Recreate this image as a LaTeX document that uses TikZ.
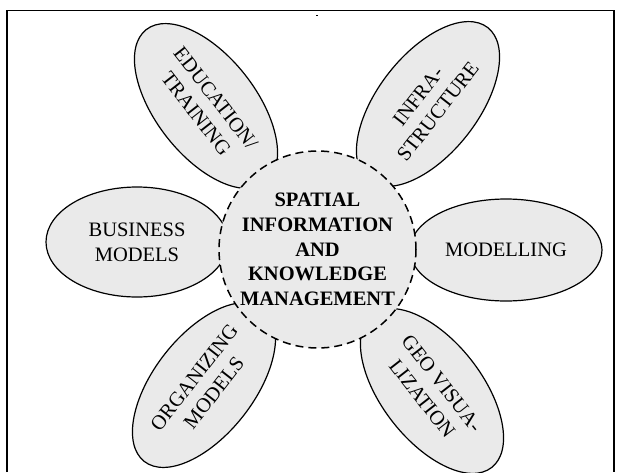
\documentclass[tikz,border=0pt]{standalone}
\usepackage{fontspec}
\setmainfont{Liberation Serif}
\usetikzlibrary{shapes.geometric}
\definecolor{petalfill}{RGB}{234,234,234}
\tikzset{
  petal/.style={ellipse, draw=black, line width=1.2pt, fill=petalfill, inner sep=0pt,
    align=center, font=\fontsize{20.5}{25}\selectfont},
  hub/.style={circle, draw=black, line width=1.5pt, dash pattern=on 8pt off 5pt,
    fill=petalfill, inner sep=0pt, minimum size=197pt, align=center,
    font=\fontsize{20.5}{24.8}\selectfont\bfseries},
  frame/.style={line width=1.2pt}
}
\begin{document}
\begin{tikzpicture}[x=1pt,y=-1pt]
\useasboundingbox (0,0) rectangle (621,472);
\draw[frame] (7,472) -- (7,10.5) -- (614,10.5) -- (614,472);
\draw[line width=0.8pt] (316,15.7) -- (318,15.7);
\node[petal, minimum width=182pt, minimum height=110pt] (business) at (137,242) {BUSINESS\\MODELS};
\node[petal, minimum width=192pt, minimum height=102pt] (modelling) at (506,250) {MODELLING};
\node[petal, minimum width=194pt, minimum height=100pt, rotate=-52] (education) at (206,106) {EDUCATION/\\TRAINING};
\node[petal, minimum width=194pt, minimum height=100pt, rotate=52] (infra) at (428,104) {INFRA-\\STRUCTURE};
\node[petal, minimum width=194pt, minimum height=100pt, rotate=52] (organizing) at (204,385) {ORGANIZING\\MODELS};
\node[petal, minimum width=194pt, minimum height=100pt, rotate=-52] (geo) at (432,391) {GEO VISUA-\\LIZATION};
\node[hub] (hub) at (317.5,249.5) {SPATIAL\\INFORMATION\\AND\\KNOWLEDGE\\MANAGEMENT};
\end{tikzpicture}
\end{document}
